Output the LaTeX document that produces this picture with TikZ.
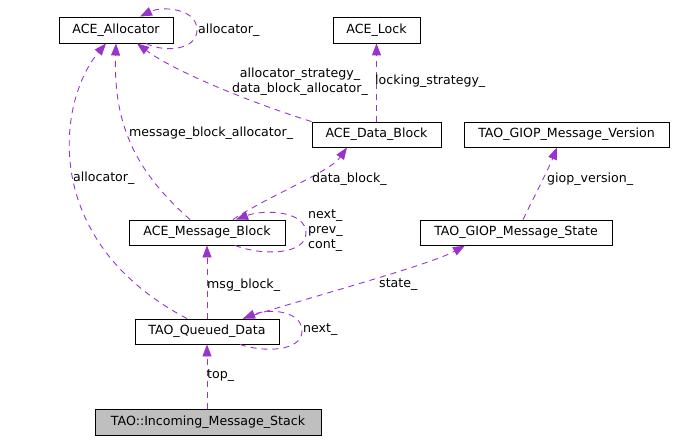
\documentclass[tikz,border=0pt]{standalone}
\usepackage{fontspec}
\setmainfont{DejaVu Sans}
\usetikzlibrary{arrows.meta}
\definecolor{edgec}{HTML}{9A32CD}
\definecolor{stackfill}{HTML}{BFBFBF}
\tikzset{
  cls/.style={draw=black, line width=0.9pt, rectangle, inner sep=0pt, minimum height=25pt, font=\fontsize{12.6}{15}\selectfont},
  dep/.style={draw=edgec, line width=0.9pt, dash pattern=on 6pt off 5pt, -{Triangle[length=12pt,width=9pt,fill=edgec]}},
  lab/.style={font=\fontsize{12.6}{15}\selectfont, inner sep=0pt, align=left},
}
\begin{document}
\begin{tikzpicture}[x=1pt,y=-1pt]
\useasboundingbox (0,0) rectangle (676,441);
% nodes
\node[cls, minimum width=114pt, minimum height=26pt] (alloc) at (116,30) {ACE\_Allocator};
\node[cls, minimum width=87pt, minimum height=26pt] (lock) at (376.5,30) {ACE\_Lock};
\node[cls, minimum width=129pt] (db) at (376.5,134.5) {ACE\_Data\_Block};
\node[cls, minimum width=205pt] (gv) at (566.5,134.5) {TAO\_GIOP\_Message\_Version};
\node[cls, minimum width=192pt] (gs) at (516,232.5) {TAO\_GIOP\_Message\_State};
\node[cls, minimum width=156pt] (mb) at (207,232.5) {ACE\_Message\_Block};
\node[cls, minimum width=144pt] (qd) at (207,331.5) {TAO\_Queued\_Data};
\node[cls, minimum width=226pt, minimum height=26pt, fill=stackfill] (st) at (208,422) {TAO::Incoming\_Message\_Stack};
% edges
% allocator self loop
\draw[dep] ([xshift=30pt]alloc.south) .. controls (165,53) and (197,50) .. (197,30) .. controls (197,8) and (162,6) .. ([xshift=24pt]alloc.north);
\node[lab, anchor=west] (l_alloc_self) at (198,30) {allocator\_};
% data block -> allocator
\draw[dep] (db.north west) .. controls (255,104) and (175,72) .. ([xshift=21pt]alloc.south);
\node[lab, align=center] (l_strat) at (300,82) {allocator\_strategy\_\\data\_block\_allocator\_};
% data block -> lock
\draw[dep] (db.north) -- (lock.south);
\node[lab, anchor=west] (l_lock) at (375,81) {locking\_strategy\_};
% message block -> allocator
\draw[dep] ([xshift=-17pt]mb.north) .. controls (140,175) and (113,130) .. (alloc.south);
\node[lab, anchor=west] (l_mba) at (129,133) {message\_block\_allocator\_};
% queued data -> allocator
\draw[dep] ([xshift=-20pt]qd.north) .. controls (38,240) and (58,100) .. ([xshift=-10pt]alloc.south);
\node[lab, anchor=west] (l_qalloc) at (73,178) {allocator\_};
% message block -> data block
\draw[dep] ([xshift=26pt]mb.north) .. controls (270,195) and (330,172) .. ([xshift=-29.5pt]db.south);
\node[lab, anchor=west] (l_db) at (312,179) {data\_block\_};
% message block self loop
\draw[dep] ([xshift=28pt]mb.south) .. controls (262,256) and (306,255) .. (306,233) .. controls (306,211) and (265,209) .. ([xshift=29pt]mb.north);
\node[lab, anchor=west] (l_mbself) at (308,231) {next\_\\prev\_\\cont\_};
% queued data -> message block
\draw[dep] (qd.north) -- (mb.south);
\node[lab, anchor=west] (l_msg) at (207,285) {msg\_block\_};
% queued data -> giop state
\draw[dep] ([xshift=36pt]qd.north) .. controls (300,300) and (430,265) .. ([xshift=-51pt]gs.south);
\node[lab, anchor=west] (l_state) at (379,285) {state\_};
% queued data self loop
\draw[dep] ([xshift=33pt]qd.south) .. controls (265,353) and (302,351) .. (302,331) .. controls (302,311) and (270,308) .. ([xshift=36pt]qd.north);
\node[lab, anchor=west] (l_qself) at (303,330) {next\_};
% giop state -> giop version
\draw[dep] ([xshift=7pt]gs.north) .. controls (535,195) and (548,170) .. ([xshift=-9.5pt]gv.south);
\node[lab, anchor=west] (l_gv) at (547,179) {giop\_version\_};
% stack -> queued data
\draw[dep] ([xshift=-1pt]st.north) -- (qd.south);
\node[lab, anchor=west] (l_top) at (207,376) {top\_};
\end{tikzpicture}
\end{document}
